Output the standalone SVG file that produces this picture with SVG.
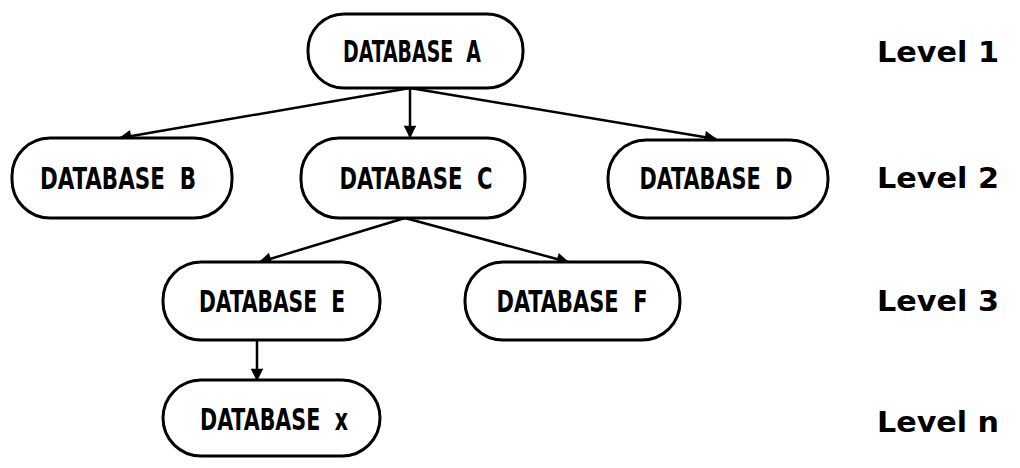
<svg xmlns="http://www.w3.org/2000/svg" width="1020" height="468" viewBox="0 0 1020 468">
<defs>
<style>
.box{fill:#fff;stroke:#000;stroke-width:3}
.t{font-family:"DejaVu Sans Condensed","Liberation Sans",sans-serif;font-weight:bold;font-size:30px;text-anchor:middle;dominant-baseline:central;fill:#000;white-space:pre}
.lv{font-family:"DejaVu Sans Condensed","Liberation Sans",sans-serif;font-weight:bold;font-size:28px;fill:#000;dominant-baseline:central;white-space:pre}
.c{stroke:#000;stroke-width:2.5;fill:none;marker-end:url(#ah)}
</style>
<marker id="ah" viewBox="0 0 10 10" refX="9" refY="5" markerWidth="7" markerHeight="5" orient="auto" markerUnits="strokeWidth">
<path d="M0,0 L10,5 L0,10 z" fill="#000"/>
</marker>
</defs>
<g id="connectors">
<line class="c" x1="410" y1="88" x2="120" y2="138"/>
<line class="c" x1="410" y1="88" x2="410" y2="137"/>
<line class="c" x1="410" y1="88" x2="716" y2="139"/>
<line class="c" x1="405" y1="218" x2="260" y2="262"/>
<line class="c" x1="405" y1="218" x2="568" y2="262"/>
<line class="c" x1="257" y1="340" x2="257" y2="380"/>
</g>
<g id="nodeA"><rect class="box" x="308" y="14" width="215" height="74" rx="36"/><text class="t" x="412" y="51" textLength="138" lengthAdjust="spacingAndGlyphs">DATABASE  A</text></g>
<g id="nodeB"><rect class="box" x="12" y="138" width="220" height="80" rx="38"/><text class="t" x="118" y="178" textLength="156" lengthAdjust="spacingAndGlyphs">DATABASE  B</text></g>
<g id="nodeC"><rect class="box" x="301" y="138" width="224" height="80" rx="38"/><text class="t" x="416" y="178" textLength="153" lengthAdjust="spacingAndGlyphs">DATABASE  C</text></g>
<g id="nodeD"><rect class="box" x="608" y="140" width="220" height="78" rx="38"/><text class="t" x="716" y="178" textLength="153" lengthAdjust="spacingAndGlyphs">DATABASE  D</text></g>
<g id="nodeE"><rect class="box" x="163" y="262" width="217" height="78" rx="38"/><text class="t" x="272" y="301" textLength="146" lengthAdjust="spacingAndGlyphs">DATABASE  E</text></g>
<g id="nodeF"><rect class="box" x="465" y="262" width="215" height="78" rx="38"/><text class="t" x="572" y="301" textLength="151" lengthAdjust="spacingAndGlyphs">DATABASE  F</text></g>
<g id="nodeX"><rect class="box" x="163" y="380" width="217" height="76" rx="38"/><text class="t" x="274" y="419" textLength="148" lengthAdjust="spacingAndGlyphs">DATABASE  x</text></g>
<g id="levels">
<text class="lv" x="877" y="52" textLength="122" lengthAdjust="spacingAndGlyphs">Level 1</text>
<text class="lv" x="877" y="178" textLength="122" lengthAdjust="spacingAndGlyphs">Level 2</text>
<text class="lv" x="877" y="301" textLength="122" lengthAdjust="spacingAndGlyphs">Level 3</text>
<text class="lv" x="877" y="422" textLength="122" lengthAdjust="spacingAndGlyphs">Level n</text>
</g>
</svg>
